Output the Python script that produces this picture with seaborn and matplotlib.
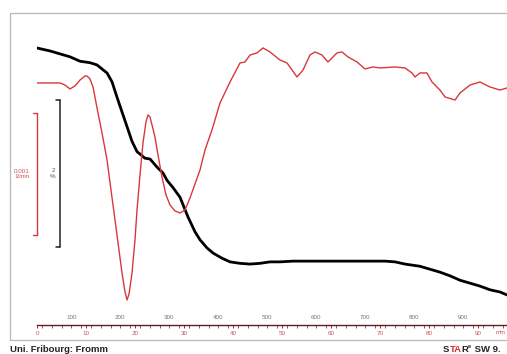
import numpy as np
import pandas as pd
import seaborn as sns
import matplotlib
matplotlib.use("Agg")
import matplotlib.pyplot as plt
from matplotlib.patches import Rectangle
from matplotlib.transforms import blended_transform_factory

# TGA (black), relative mass in %
tga_temp = [30, 56.5, 76.9, 97.3, 117.8, 138.2, 152.4, 172.9, 183.1, 193.3, 203.5, 213.7,
            223.9, 234.1, 250.4, 260.6, 274.9, 287.1, 295.3, 307.6, 321.8, 338.2, 352.4,
            362.7, 376.9, 389.2, 407.6, 423.9, 444.3, 464.7, 485.1, 505.5, 525.9, 552.4,
            587.1, 628.0, 668.8, 709.6, 740.2, 760.6, 781.0, 811.6, 832.0, 852.4, 872.9,
            893.3, 913.7, 934.1, 954.5, 974.9, 989.2]
tga_mass = [100.00, 99.96, 99.92, 99.88, 99.82, 99.80, 99.77, 99.66, 99.54, 99.33, 99.13,
            98.93, 98.73, 98.59, 98.50, 98.49, 98.38, 98.30, 98.20, 98.10, 97.97, 97.70,
            97.50, 97.39, 97.28, 97.21, 97.14, 97.09, 97.07, 97.06, 97.07, 97.09, 97.09,
            97.10, 97.10, 97.10, 97.10, 97.10, 97.10, 97.09, 97.06, 97.03, 96.99, 96.95,
            96.90, 96.84, 96.80, 96.76, 96.71, 96.68, 96.64]

# DTG (red), in 0.001 1/min
dtg_temp = [30, 46.3, 56.5, 76.9, 87.1, 97.3, 107.6, 117.8, 128.0, 132.0, 138.2, 144.3,
            154.5, 162.7, 172.9, 181.0, 189.2, 197.3, 203.5, 209.6, 213.7, 217.8, 223.9,
            230.0, 234.1, 240.2, 246.3, 252.4, 256.5, 260.6, 264.7, 270.8, 276.9, 285.1,
            293.3, 301.4, 311.6, 321.8, 332.0, 342.2, 362.7, 372.9, 387.1, 403.5, 423.9,
            444.3, 454.5, 464.7, 479.0, 491.2, 505.5, 525.9, 540.2, 560.6, 572.9, 587.1,
            597.3, 611.6, 623.9, 642.2, 652.4, 664.7, 683.1, 699.4, 715.7, 730.0, 760.6,
            781.0, 795.3, 801.4, 811.6, 825.9, 836.1, 852.4, 862.7, 883.1, 893.3, 913.7,
            934.1, 954.5, 974.9, 989.2]
dtg_val = [-0.008, -0.008, -0.008, -0.008, -0.025, -0.057, -0.033, 0.016, 0.049, 0.049,
           0.025, -0.041, -0.254, -0.418, -0.639, -0.885, -1.131, -1.377, -1.566, -1.721,
           -1.787, -1.738, -1.566, -1.295, -1.049, -0.762, -0.500, -0.328, -0.270, -0.287,
           -0.352, -0.451, -0.598, -0.779, -0.926, -1.008, -1.057, -1.074, -1.049, -0.951,
           -0.721, -0.557, -0.393, -0.172, 0.000, 0.156, 0.164, 0.221, 0.238, 0.279, 0.246,
           0.180, 0.156, 0.041, 0.098, 0.221, 0.246, 0.221, 0.164, 0.238, 0.246, 0.205,
           0.164, 0.107, 0.123, 0.115, 0.123, 0.115, 0.074, 0.041, 0.074, 0.074, 0.000,
           -0.066, -0.123, -0.148, -0.090, -0.025, 0.000, -0.041, -0.066, -0.049]

temp_ticks = [100, 200, 300, 400, 500, 600, 700, 800, 900]
time_ticks = [0, 10, 20, 30, 40, 50, 60, 70, 80, 90]

sns.set_style("white")
plt.rcParams['font.family'] = ['Liberation Sans', 'DejaVu Sans']

W, H = 507, 354
fig = plt.figure(figsize=(W / 100, H / 100), dpi=100)
ax = fig.add_axes([37 / W, 1 - 325 / H, 475.3 / W, 305 / H])
ax.patch.set_alpha(0)

df_tga = pd.DataFrame({"T": tga_temp, "m": tga_mass})
df_dtg = pd.DataFrame({"T": dtg_temp, "d": dtg_val})

sns.lineplot(data=df_tga, x="T", y="m", ax=ax, color="black", lw=2.0, estimator=None)
ax.set_xlim(30, 1000)
ax.set_ylim(96.231, 100.381)

ax2 = ax.twinx()
sns.lineplot(data=df_dtg, x="T", y="d", ax=ax2, color="#d8383c", lw=1.0, estimator=None)
ax2.set_ylim(-1.992, 0.508)

for a in (ax, ax2):
    a.set_xlabel("")
    a.set_ylabel("")
    a.set_yticks([])
    for s in a.spines.values():
        s.set_visible(False)
ax.spines["bottom"].set_visible(True)
ax.spines["bottom"].set_color("#5a2020")
ax.spines["bottom"].set_linewidth(1.0)

# temperature scale, labels above the line
ax.set_xticks(temp_ticks)
ax.set_xticks(np.arange(40, 1000, 20), minor=True)
ax.tick_params(axis="x", which="major", direction="inout", length=4, width=0.8,
               color="#3a1010", labelsize=4.5, labelcolor="#777777", pad=-9.5)
ax.tick_params(axis="x", which="minor", direction="in", length=2, width=0.6, color="#3a1010")

# time scale below
sec = ax.secondary_xaxis("bottom", functions=(lambda T: (T - 30) / 10, lambda t: t * 10 + 30))
sec.spines["bottom"].set_visible(False)
sec.set_xticks(time_ticks)
sec.set_xticks(np.arange(1, 97, 2), minor=True)
sec.tick_params(axis="x", which="major", direction="out", length=2.5, width=0.7,
                color="#a02828", labelsize=4.5, labelcolor="#d05050", pad=2)
sec.tick_params(axis="x", which="minor", direction="out", length=1.8, width=0.6, color="#a02828")
fig.text(496 / W, 1 - 333 / H, "min", fontsize=4.5, color="#d05050", va="center", ha="left")

# scale bars
tb = blended_transform_factory(ax.transAxes, ax.transData)
bx, tk = 0.0484, 0.0075
ax.plot([bx, bx], [99.29, 97.29], color="#222222", lw=1.1, transform=tb, clip_on=False)
for yy in (99.29, 97.29):
    ax.plot([bx - tk, bx], [yy, yy], color="#222222", lw=1.1, transform=tb, clip_on=False)
ax.text(0.0337, 98.29, "2\n%", transform=tb, fontsize=4.5, color="#555555",
        ha="center", va="center", linespacing=1.1)

tr = blended_transform_factory(ax2.transAxes, ax2.transData)
ax2.plot([0, 0], [-0.254, -1.254], color="#d8383c", lw=1.0, transform=tr, clip_on=False)
for yy in (-0.254, -1.254):
    ax2.plot([-tk, 0], [yy, yy], color="#d8383c", lw=1.0, transform=tr, clip_on=False)
ax2.text(-0.0316, -0.754, "0.001\n1/min", transform=tr, fontsize=4.5, color="#d05050",
         ha="center", va="center", linespacing=1.1)

# frame and footer
fig.add_artist(Rectangle((10 / W, 1 - 340 / H), 520 / W, 327 / H, transform=fig.transFigure,
                         fill=False, ec="#b8b8b8", lw=0.9))
fig.text(10 / W, 1 - 349 / H, "Uni. Fribourg: Fromm", fontsize=6.8, fontweight="bold",
         color="#222222", va="center", ha="left")

# STARe logo, pieces placed one after another
renderer = fig.canvas.get_renderer()
xpos = 443
for piece, col in [("S", "#222222"), ("TA", "#d03030"), ("R", "#222222")]:
    t = fig.text(xpos / W, 1 - 349 / H, piece, fontsize=6.8, fontweight="bold", color=col,
                 va="center", ha="left")
    xpos += t.get_window_extent(renderer).width
fig.text(xpos / W, 1 - 346 / H, "e", fontsize=4, fontweight="bold", color="#222222",
         va="center", ha="left")
fig.text((xpos + 4) / W, 1 - 349 / H, " SW 9.", fontsize=6.8, fontweight="bold",
         color="#222222", va="center", ha="left")

fig.savefig("out.png", dpi=100)
